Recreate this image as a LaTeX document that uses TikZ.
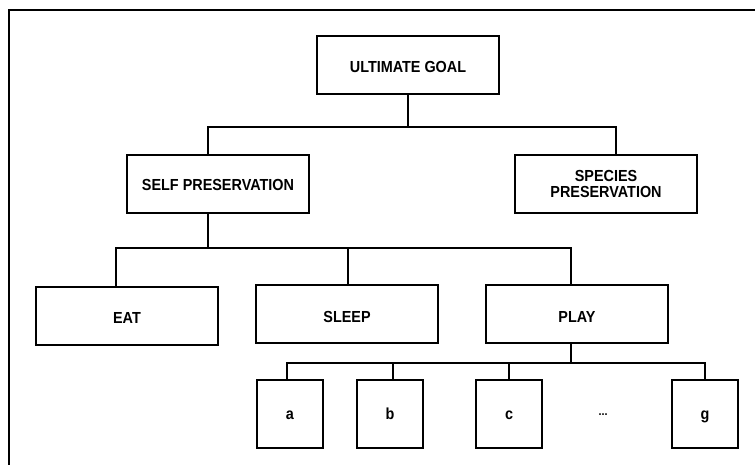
\documentclass[tikz,border=0pt]{standalone}
\usepackage{fontspec}
\setmainfont[FakeStretch=0.9]{Liberation Sans}
\begin{document}
\begin{tikzpicture}[x=1pt,y=-1pt,
  wire/.style={line width=2pt,line cap=rect},
  boxline/.style={draw,line width=2pt,inner sep=0pt,
    font=\fontsize{16}{17}\selectfont\bfseries},
  bigbox/.style={boxline,minimum width=182pt,minimum height=58pt,
    text height=14.5pt,text depth=0pt},
  twoline/.style={boxline,minimum width=182pt,minimum height=58pt,align=center},
  smallbox/.style={boxline,minimum width=66pt,minimum height=68pt,
    text height=10pt,text depth=0pt}]
\useasboundingbox (0,0) rectangle (755,465);
\fill[white] (0,0) rectangle (755,465);

% open frame: top and left sides only
\draw[line width=2pt] (9,468) -- (9,10) -- (758,10);

% level 0
\node[bigbox] (ult) at (408,65) {ULTIMATE GOAL};

% level 1
\node[bigbox,text height=12.5pt] (self) at (218,184) {SELF PRESERVATION};
\node[twoline] (spec) at (606,184) {SPECIES\\[-1pt]PRESERVATION};

% level 2
\node[bigbox,text height=15pt] (eat)   at (127,316) {EAT};
\node[bigbox,text height=16pt] (sleep) at (347,314) {SLEEP};
\node[bigbox,text height=16pt] (play)  at (577,314) {PLAY};

% level 3
\node[smallbox] (a) at (290,414) {a};
\node[smallbox] (b) at (390,414) {b};
\node[smallbox] (c) at (509,414) {c};
\node[font=\fontsize{12}{13}\selectfont\bfseries,anchor=base,inner sep=0pt] (dots) at (603,415) {...};
\node[smallbox] (g) at (705,414) {g};

% bus lines
\coordinate (bus1) at (408,127);
\coordinate (bus2) at (208,248);
\coordinate (bus3) at (571,363);

% connectors
\draw[wire] (ult.south) -- (bus1);
\draw[wire] ([xshift=-10pt]self.north) |- (bus1) -| ([xshift=10pt]spec.north);

\draw[wire] ([xshift=-10pt]self.south) -- (bus2);
\draw[wire] ([xshift=-11pt]eat.north) |- (bus2) -| ([xshift=-6pt]play.north);
\draw[wire] ([xshift=1pt]sleep.north) -- ([xshift=1pt]sleep.north |- bus2);

\draw[wire] ([xshift=-6pt]play.south) -- (bus3);
\draw[wire] ([xshift=-3pt]a.north) |- (bus3) -| (g.north);
\draw[wire] ([xshift=3pt]b.north) -- ([xshift=3pt]b.north |- bus3);
\draw[wire] (c.north) -- (c.north |- bus3);
\end{tikzpicture}
\end{document}
